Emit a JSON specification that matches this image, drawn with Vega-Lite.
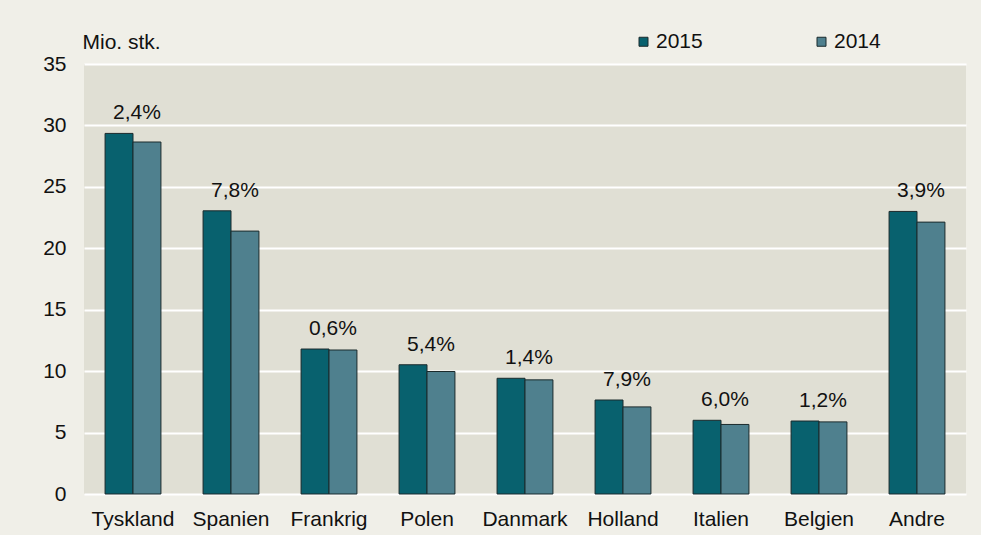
{
  "$schema": "https://vega.github.io/schema/vega-lite/v6.json",
  "width": 882,
  "height": 430,
  "autosize": "none",
  "padding": {"left": 84, "top": 64, "right": 15, "bottom": 41},
  "background": "#f0efe8",
  "config": {
    "view": {"fill": "#e0dfd4", "stroke": null},
    "font": "Liberation Sans",
    "axis": {"labelFont": "Liberation Sans", "labelColor": "#111111", "labelFontSize": 21, "titleFont": "Liberation Sans"},
    "legend": {"labelFont": "Liberation Sans"},
    "text": {"font": "Liberation Sans"}
  },
  "data": {
    "values": [
      {"land": "Tyskland", "aar": "2015", "mio": 29.35, "vaekst": "2,4%"},
      {"land": "Tyskland", "aar": "2014", "mio": 28.65, "vaekst": ""},
      {"land": "Spanien", "aar": "2015", "mio": 23.05, "vaekst": "7,8%"},
      {"land": "Spanien", "aar": "2014", "mio": 21.4, "vaekst": ""},
      {"land": "Frankrig", "aar": "2015", "mio": 11.8, "vaekst": "0,6%"},
      {"land": "Frankrig", "aar": "2014", "mio": 11.72, "vaekst": ""},
      {"land": "Polen", "aar": "2015", "mio": 10.52, "vaekst": "5,4%"},
      {"land": "Polen", "aar": "2014", "mio": 9.97, "vaekst": ""},
      {"land": "Danmark", "aar": "2015", "mio": 9.42, "vaekst": "1,4%"},
      {"land": "Danmark", "aar": "2014", "mio": 9.29, "vaekst": ""},
      {"land": "Holland", "aar": "2015", "mio": 7.65, "vaekst": "7,9%"},
      {"land": "Holland", "aar": "2014", "mio": 7.09, "vaekst": ""},
      {"land": "Italien", "aar": "2015", "mio": 6.0, "vaekst": "6,0%"},
      {"land": "Italien", "aar": "2014", "mio": 5.66, "vaekst": ""},
      {"land": "Belgien", "aar": "2015", "mio": 5.94, "vaekst": "1,2%"},
      {"land": "Belgien", "aar": "2014", "mio": 5.87, "vaekst": ""},
      {"land": "Andre", "aar": "2015", "mio": 23.0, "vaekst": "3,9%"},
      {"land": "Andre", "aar": "2014", "mio": 22.13, "vaekst": ""}
    ]
  },
  "encoding": {
    "x": {
      "field": "land", "type": "nominal", "sort": null,
      "scale": {"paddingInner": 0.43, "paddingOuter": 0.215},
      "axis": {"title": null, "labelAngle": 0, "domain": false, "ticks": false, "labelPadding": 14, "labelBaseline": "top"}
    }
  },
  "layer": [
    {
      "mark": {"type": "bar", "stroke": "#1b2a2c", "strokeWidth": 1},
      "encoding": {
        "xOffset": {"field": "aar", "type": "nominal", "sort": ["2015", "2014"]},
        "y": {
          "field": "mio", "type": "quantitative",
          "scale": {"domain": [0, 35], "nice": false},
          "axis": {
            "values": [0, 5, 10, 15, 20, 25, 30, 35],
            "domain": false, "ticks": false, "labelPadding": 18,
            "grid": true, "gridColor": "#ffffff", "gridWidth": 2, "gridOpacity": 1,
            "title": "Mio. stk.", "titleAngle": 0, "titleX": -2, "titleY": -22,
            "titleAlign": "left", "titleBaseline": "middle", "titleFontSize": 21,
            "titleFontWeight": "normal", "titleColor": "#111111"
          }
        },
        "color": {
          "field": "aar", "type": "nominal",
          "scale": {"domain": ["2015", "2014"], "range": ["#08616e", "#4f808e"]},
          "legend": {
            "title": null, "orient": "none", "direction": "horizontal",
            "legendX": 549, "legendY": -33,
            "symbolType": "square", "symbolSize": 81, "symbolStrokeColor": "#1b2a2c", "symbolStrokeWidth": 1,
            "labelFontSize": 21, "labelColor": "#111111", "labelOffset": 2, "columnPadding": 108
          }
        }
      }
    },
    {
      "transform": [{"filter": "datum.aar == '2015'"}],
      "mark": {"type": "text", "fontSize": 21, "baseline": "middle", "dy": -20, "dx": 4, "color": "#111111", "font": "Liberation Sans"},
      "encoding": {
        "y": {"field": "mio", "type": "quantitative"},
        "text": {"field": "vaekst"}
      }
    }
  ]
}
